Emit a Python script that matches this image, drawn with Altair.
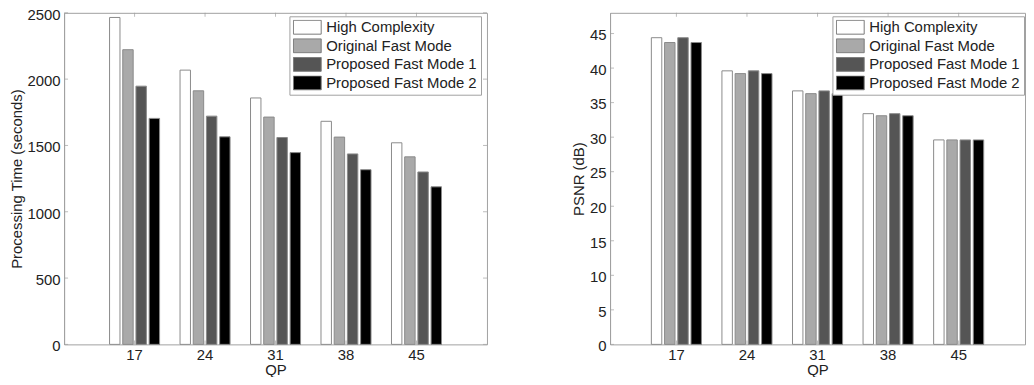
import altair as alt
import pandas as pd

qp = ["17", "24", "31", "38", "45"]
series = ["High Complexity", "Original Fast Mode", "Proposed Fast Mode 1", "Proposed Fast Mode 2"]
colors = ["#ffffff", "#a9a9a9", "#555555", "#000000"]

time_hc = [2465, 2068, 1858, 1682, 1520]
time_of = [2222, 1912, 1714, 1563, 1414]
time_p1 = [1947, 1721, 1560, 1436, 1300]
time_p2 = [1704, 1565, 1446, 1317, 1188]

psnr_hc = [44.4, 39.6, 36.7, 33.4, 29.6]
psnr_of = [43.7, 39.2, 36.3, 33.1, 29.6]
psnr_p1 = [44.4, 39.6, 36.7, 33.4, 29.6]
psnr_p2 = [43.7, 39.2, 36.3, 33.1, 29.6]

time_ticks = [0, 500, 1000, 1500, 2000, 2500]
psnr_ticks = [0, 5, 10, 15, 20, 25, 30, 35, 40, 45]

FONT = "Liberation Sans"
AX = "#a0a0a0"
TXT = "#222222"


def long_df(cols):
    rows = []
    for s, vals in zip(series, cols):
        for q, v in zip(qp, vals):
            rows.append({"QP": q, "Series": s, "Value": v})
    return pd.DataFrame(rows)


def panel(cols, ytitle, domain, ticks, W, H, pad_outer, legend_x, right_ticks):
    df = long_df(cols)
    xs = alt.Scale(paddingInner=0, paddingOuter=pad_outer)
    ys = alt.Scale(domain=domain, nice=False, zero=True)
    xaxis = alt.Axis(title="QP", labelAngle=0, ticks=False, labelPadding=3,
                     titlePadding=0, domain=False)
    yaxis = alt.Axis(title=ytitle, values=ticks, format="d", ticks=False,
                     labelPadding=4, titlePadding=3, labelOffset=1.3)
    bars = alt.Chart(df).mark_bar(stroke="#8a8a8a", strokeWidth=1).encode(
        x=alt.X("QP:N", sort=qp, scale=xs, axis=xaxis),
        xOffset=alt.XOffset("Series:N", sort=series,
                            scale=alt.Scale(paddingInner=0.21, paddingOuter=0.775)),
        y=alt.Y("Value:Q", scale=ys, axis=yaxis),
        color=alt.Color("Series:N", sort=series,
                        scale=alt.Scale(domain=series, range=colors),
                        legend=alt.Legend(title=None, orient="none", legendX=legend_x,
                                          legendY=3.5,
                                          padding=3.5, rowPadding=2.7, clipHeight=15,
                                          strokeColor=AX, fillColor="white",
                                          labelFont=FONT, labelFontSize=15,
                                          labelColor=TXT, labelOffset=11.5,
                                          symbolType="M-2,-1H2V1H-2Z", symbolOffset=7,
                                          symbolSize=196, symbolStrokeColor="#7a7a7a",
                                          symbolStrokeWidth=1, symbolOpacity=1)),
    )
    tdf = pd.DataFrame({"Value": ticks})
    qdf = pd.DataFrame({"QP": qp})
    layers = [bars]
    yl = alt.Chart(tdf).mark_tick(orient="horizontal", size=4, thickness=1, color=AX).encode(
        y=alt.Y("Value:Q", scale=ys, axis=yaxis), x=alt.value(2))
    layers.append(yl)
    if right_ticks:
        yr = alt.Chart(tdf).mark_tick(orient="horizontal", size=4, thickness=1, color=AX).encode(
            y=alt.Y("Value:Q", scale=ys, axis=yaxis), x=alt.value(W - 2))
        layers.append(yr)
    xt = alt.Chart(qdf).mark_tick(orient="vertical", size=4, thickness=1, color=AX).encode(
        x=alt.X("QP:N", sort=qp, scale=xs, axis=xaxis), y=alt.value(2))
    xb = alt.Chart(qdf).mark_tick(orient="vertical", size=4, thickness=1, color=AX).encode(
        x=alt.X("QP:N", sort=qp, scale=xs, axis=xaxis), y=alt.value(H - 2))
    layers += [xt, xb]
    return alt.layer(*layers).properties(width=W, height=H)


H = 334
left = panel([time_hc, time_of, time_p1, time_p2], "Processing Time (seconds)",
             [0, 2500], time_ticks, 426, H, 0.5, 227, True)
right = panel([psnr_hc, psnr_of, psnr_p1, psnr_p2], "PSNR (dB)",
              [0, 48], psnr_ticks, 418, H, 0.44, 224, False)

chart = alt.hconcat(left, right, spacing=83).resolve_scale(
    color="independent", y="independent", x="independent", xOffset="independent"
).resolve_legend(color="independent").properties(
    padding={"left": 0.5, "top": -3.5, "right": 0, "bottom": -3},
    background="white",
).configure_view(
    stroke=AX, strokeWidth=1
).configure_axis(
    domainColor=AX, domainWidth=1, grid=False,
    labelFont=FONT, labelFontSize=15, labelColor=TXT,
    titleFont=FONT, titleFontSize=15, titleColor=TXT, titleFontWeight="normal",
)

chart.save("out.html", embed_options={"renderer": "svg", "actions": False})
